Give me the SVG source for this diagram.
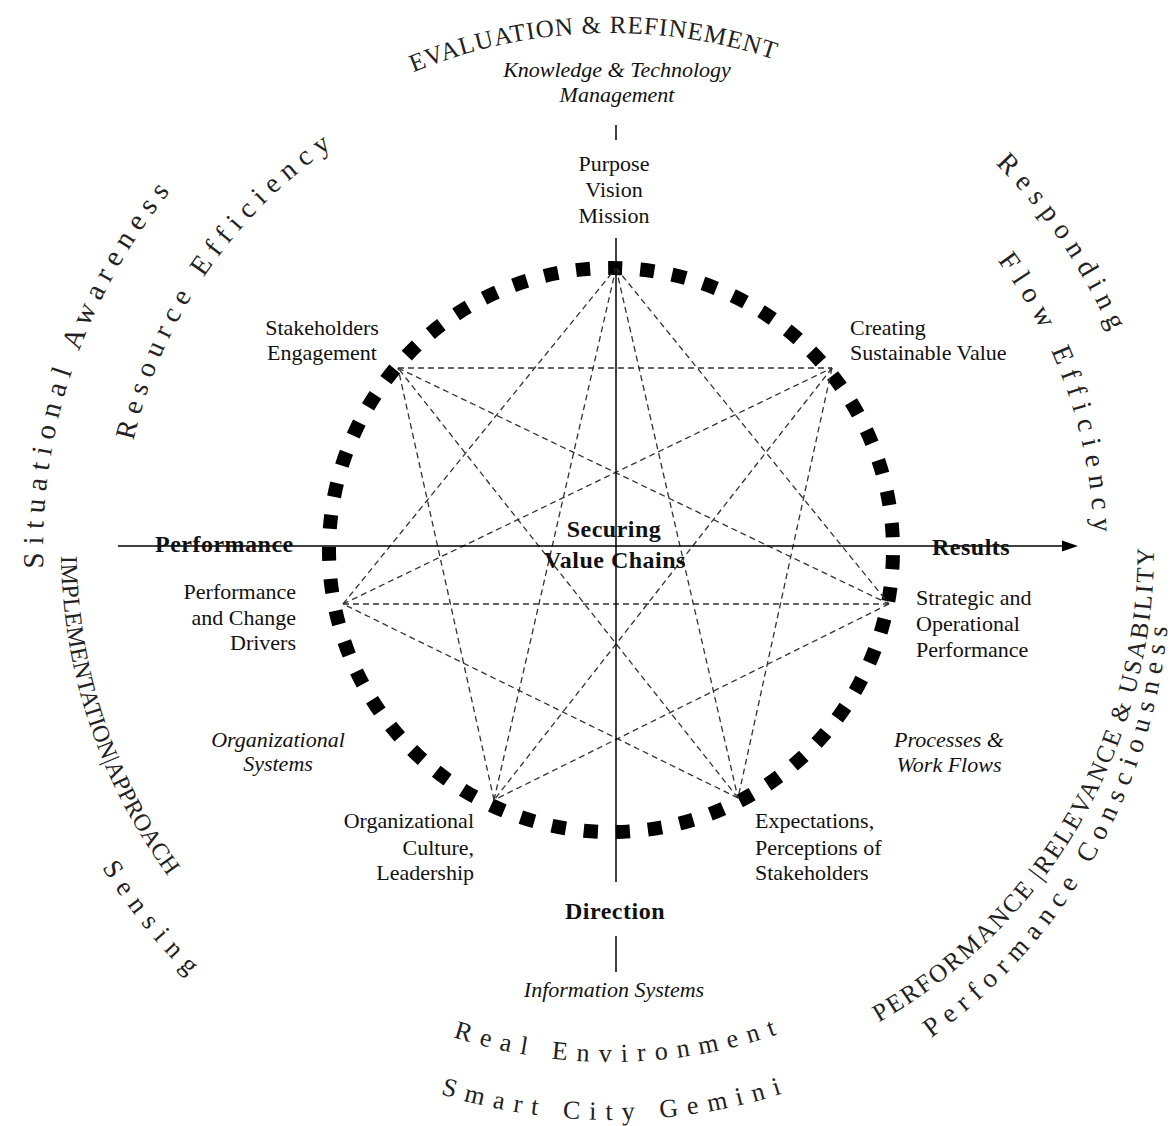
<svg xmlns="http://www.w3.org/2000/svg" width="1176" height="1126" viewBox="0 0 1176 1126">
<style>
text{font-family:"Liberation Serif","Times New Roman",serif;fill:#111;}
.lbl{font-size:22px;}
.it{font-size:22px;font-style:italic;}
.bd{font-size:24px;font-weight:bold;letter-spacing:0.5px;}
.arc{fill:#222;}
.chord{stroke:#333;stroke-width:1.3;stroke-dasharray:6 4;fill:none;}
.axis{stroke:#000;stroke-width:1.5;fill:none;}
</style>
<defs>
<path id="pA" d="M368.3,93.5 A517,517 0 0 1 821.3,77.7"/>
<path id="pB" d="M51.6,648.6 A568,568 0 0 1 230.9,127.9"/>
<path id="pC" d="M122.9,507.3 A490,490 0 0 1 396.2,109.6"/>
<path id="pD" d="M961.3,132.5 A545,545 0 0 1 1129.3,381.6"/>
<path id="pE" d="M946.5,202.6 A483,483 0 0 1 1089.3,617.2"/>
<path id="pF" d="M751.5,1074.5 A543,543 0 0 0 1135.5,409.5"/>
<path id="pG" d="M793.6,1110.5 A572,572 0 0 0 1159.5,463.9"/>
<path id="pH" d="M394.6,1014.0 A512,512 0 0 0 843.4,1006.2"/>
<path id="pI" d="M388.3,1074.7 A570,570 0 0 0 842.8,1070.7"/>
<path id="pJ" d="M69.4,454.5 A550,550 0 0 0 235.9,952.3"/>
<path id="pK" d="M47.2,755.2 A600,600 0 0 0 293.1,1058.8"/>
</defs>
<rect width="1176" height="1126" fill="#fff"/>

<g id="ring">
<circle cx="611" cy="550" r="282" fill="none" stroke="#000" stroke-width="14" pathLength="55" stroke-dasharray="0.44 0.56" stroke-dashoffset="-0.16"/>
</g>

<g id="connectors">
<line class="chord" x1="616" y1="268" x2="889" y2="604"/>
<line class="chord" x1="832" y1="368" x2="738" y2="798"/>
<line class="chord" x1="889" y1="604" x2="494" y2="800"/>
<line class="chord" x1="738" y1="798" x2="343" y2="604"/>
<line class="chord" x1="494" y1="800" x2="398" y2="368"/>
<line class="chord" x1="343" y1="604" x2="616" y2="268"/>
<line class="chord" x1="398" y1="368" x2="832" y2="368"/>
<line class="chord" x1="616" y1="268" x2="738" y2="798"/>
<line class="chord" x1="832" y1="368" x2="494" y2="800"/>
<line class="chord" x1="889" y1="604" x2="343" y2="604"/>
<line class="chord" x1="738" y1="798" x2="398" y2="368"/>
<line class="chord" x1="494" y1="800" x2="616" y2="268"/>
<line class="chord" x1="343" y1="604" x2="832" y2="368"/>
<line class="chord" x1="398" y1="368" x2="889" y2="604"/>
<line class="axis" x1="118" y1="546" x2="1064" y2="546"/>
<polygon points="1078,546 1062,540.5 1062,551.5" fill="#000"/>
<line class="axis" x1="616" y1="238" x2="616" y2="882"/>
<line class="axis" x1="616" y1="125" x2="616" y2="140"/>
<line class="axis" x1="616" y1="936" x2="616" y2="972"/>
</g>

<g id="center">
<text class="bd" x="614" y="537" text-anchor="middle">Securing</text>
<text class="bd" x="615" y="568" text-anchor="middle">Value Chains</text>
</g>

<g id="node-purpose">
<text class="lbl" x="614" y="171" text-anchor="middle">Purpose</text>
<text class="lbl" x="614" y="197" text-anchor="middle">Vision</text>
<text class="lbl" x="614" y="223" text-anchor="middle">Mission</text>
</g>
<g id="node-knowledge">
<text class="it" x="617" y="77" text-anchor="middle">Knowledge &amp; Technology</text>
<text class="it" x="617" y="102" text-anchor="middle">Management</text>
</g>
<g id="node-stakeholders">
<text class="lbl" x="322" y="335" text-anchor="middle">Stakeholders</text>
<text class="lbl" x="322" y="360" text-anchor="middle">Engagement</text>
</g>
<g id="node-creating">
<text class="lbl" x="850" y="335">Creating</text>
<text class="lbl" x="850" y="360">Sustainable Value</text>
</g>
<g id="node-performance-axis">
<text class="bd" x="155" y="552">Performance</text>
</g>
<g id="node-results">
<text class="bd" x="932" y="555">Results</text>
</g>
<g id="node-drivers">
<text class="lbl" x="296" y="599" text-anchor="end">Performance</text>
<text class="lbl" x="296" y="625" text-anchor="end">and Change</text>
<text class="lbl" x="296" y="650" text-anchor="end">Drivers</text>
</g>
<g id="node-strategic">
<text class="lbl" x="916" y="605">Strategic and</text>
<text class="lbl" x="916" y="631">Operational</text>
<text class="lbl" x="916" y="657">Performance</text>
</g>
<g id="node-orgsystems">
<text class="it" x="278" y="747" text-anchor="middle">Organizational</text>
<text class="it" x="278" y="771" text-anchor="middle">Systems</text>
</g>
<g id="node-processes">
<text class="it" x="949" y="747" text-anchor="middle">Processes &amp;</text>
<text class="it" x="949" y="772" text-anchor="middle">Work Flows</text>
</g>
<g id="node-culture">
<text class="lbl" x="474" y="828" text-anchor="end">Organizational</text>
<text class="lbl" x="474" y="855" text-anchor="end">Culture,</text>
<text class="lbl" x="474" y="880" text-anchor="end">Leadership</text>
</g>
<g id="node-expectations">
<text class="lbl" x="755" y="828">Expectations,</text>
<text class="lbl" x="755" y="855">Perceptions of</text>
<text class="lbl" x="755" y="880">Stakeholders</text>
</g>
<g id="node-direction">
<text class="bd" x="615" y="919" text-anchor="middle">Direction</text>
</g>
<g id="node-information">
<text class="it" x="614" y="997" text-anchor="middle">Information Systems</text>
</g>

<g id="arc-labels">
<text class="arc" font-size="25" letter-spacing="1"><textPath href="#pA" startOffset="50%" text-anchor="middle">EVALUATION  &amp; REFINEMENT</textPath></text>
<text class="arc" font-size="29" letter-spacing="7.5"><textPath href="#pB" startOffset="50%" text-anchor="middle">Situational  Awareness</textPath></text>
<text class="arc" font-size="28" letter-spacing="7.5"><textPath href="#pC" startOffset="50%" text-anchor="middle">Resource Efficiency</textPath></text>
<text class="arc" font-size="28" letter-spacing="7.8"><textPath href="#pD" startOffset="50%" text-anchor="middle">Responding</textPath></text>
<text class="arc" font-size="28" letter-spacing="8"><textPath href="#pE" startOffset="50%" text-anchor="middle">Flow  Efficiency</textPath></text>
<text class="arc" font-size="25" letter-spacing="2.1"><textPath href="#pF" startOffset="50%" text-anchor="middle">PERFORMANCE |RELEVANCE  &amp; USABILITY</textPath></text>
<text class="arc" font-size="27" letter-spacing="7.7"><textPath href="#pG" startOffset="50%" text-anchor="middle">Performance Consciousness</textPath></text>
<text class="arc" font-size="26" letter-spacing="9.3"><textPath href="#pH" startOffset="50%" text-anchor="middle">Real Environment</textPath></text>
<text class="arc" font-size="26" letter-spacing="9.3"><textPath href="#pI" startOffset="50%" text-anchor="middle">Smart City Gemini</textPath></text>
<text class="arc" font-size="24"><textPath href="#pJ" startOffset="50%" text-anchor="middle">IMPLEMENTATION|APPROACH</textPath></text>
<text class="arc" font-size="27" letter-spacing="8.9"><textPath href="#pK" startOffset="50%" text-anchor="middle">Sensing</textPath></text>
</g>
</svg>
